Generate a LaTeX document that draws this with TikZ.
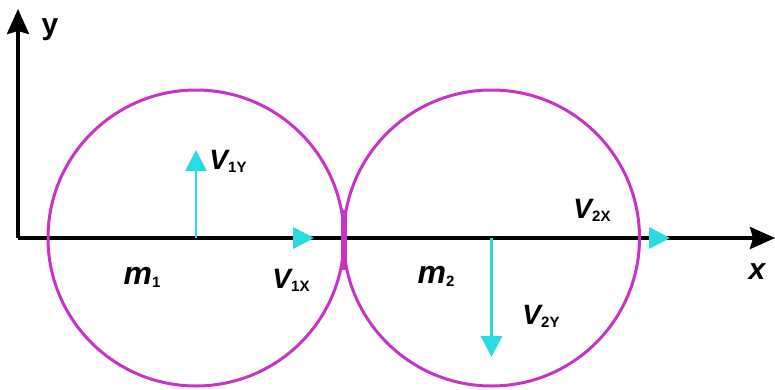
\documentclass[tikz,border=0pt]{standalone}
\usepackage{fontspec}
\setmainfont{Liberation Sans}
\usetikzlibrary{arrows.meta}
\definecolor{mag}{RGB}{200,50,200}
\definecolor{cy}{RGB}{40,220,225}
\newcommand{\lbl}[2]{{\fontsize{28}{30}\selectfont\bfseries\itshape #1}{\fontsize{15}{15}\selectfont\bfseries\raisebox{-3pt}{#2}}}
\newcommand{\mlbl}[2]{{\fontsize{32}{34}\selectfont\bfseries\itshape #1}{\fontsize{15}{15}\selectfont\bfseries\raisebox{-3pt}{#2}}}
\begin{document}
\begin{tikzpicture}[x=1pt,y=-1pt,
  axis/.style={line width=3.5pt,black,-{Stealth[length=25pt,width=22pt,inset=3pt]}},
  ball/.style={line width=3pt,mag},
  vel/.style={line width=2.5pt,cy,-{Triangle[length=21pt,width=21pt]}},
  txt/.style={inner sep=0pt,text=black}]
\useasboundingbox (0,0) rectangle (775,390);
% coordinates
\coordinate (O) at (18,238);
\coordinate (Ytip) at (18,9);
\coordinate (Xtip) at (775,238);
\coordinate (C1) at (196,238);
\coordinate (C2) at (491.5,238);
\coordinate (V1Yt) at (196,150);
\coordinate (V1Xt) at (314,238);
\coordinate (V2Xt) at (670,238);
\coordinate (V2Yt) at (491.5,357);
\coordinate (V1Xa) at (310,238);
\coordinate (V2Xa) at (666,238);
\coordinate (K1) at (343.5,210);
\coordinate (K2) at (343.5,270);
% cyan horizontal arrows under the axis
\draw[vel] (C1) -- (V1Xt);
\draw[vel] (C2) -- (V2Xt);
% axes
\draw[axis] (O) -- (Ytip);
\draw[axis] (O) -- (Xtip);
% cyan heads on top of the axis
\draw[vel] (V1Xa) -- (V1Xt);
\draw[vel] (V2Xa) -- (V2Xt);
% vertical velocity components
\draw[vel] (C1) -- (V1Yt);
\draw[vel] (C2) -- (V2Yt);
% balls
\draw[ball] (C1) circle[radius=148];
\draw[ball] (C2) circle[radius=148];
\draw[mag,line width=6pt] (K1) -- (K2);
% labels
\node[txt] (ly) at (50,30) {\fontsize{30}{32}\selectfont\bfseries y};
\node[txt] (lx) at (757,272) {\fontsize{30}{32}\selectfont\bfseries\itshape x};
\node[txt] (l1y) at (228,161) {\lbl{V}{1Y}};
\node[txt] (l1x) at (291,280) {\lbl{V}{1X}};
\node[txt] (m1) at (142,277) {\mlbl{m}{1}};
\node[txt] (l2x) at (592,210) {\lbl{V}{2X}};
\node[txt] (m2) at (436,276) {\mlbl{m}{2}};
\node[txt] (l2y) at (541,316) {\lbl{V}{2Y}};
\end{tikzpicture}
\end{document}
